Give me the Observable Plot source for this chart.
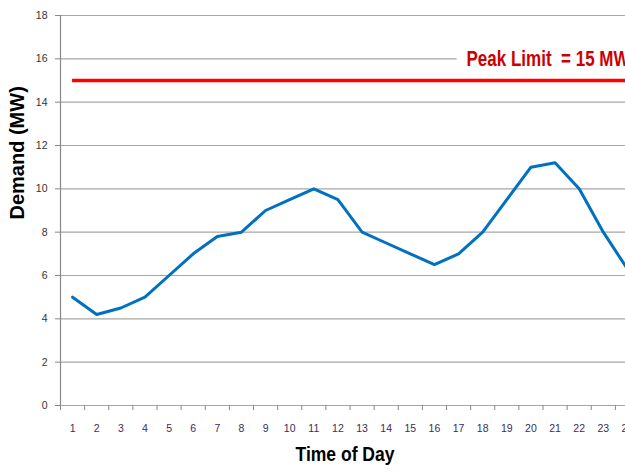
<!DOCTYPE html>
<html>
<head>
<meta charset="utf-8">
<script src="https://cdn.jsdelivr.net/npm/d3@7"></script>
<script src="https://cdn.jsdelivr.net/npm/@observablehq/plot@0.6"></script>
<style>
  html, body { margin: 0; padding: 0; background: #fff; overflow: hidden; }
  #chart { width: 625px; height: 472px; overflow: hidden; }
  #chart svg { max-width: none !important; }
</style>
</head>
<body>
<div id="chart"></div>
<script>
// Hourly electricity demand over one day, in megawatts
const hours = d3.range(1, 25);
const demand = [5, 4.2, 4.5, 5, 6, 7, 7.8, 8, 9, 9.5, 10, 9.5,
                8, 7.5, 7, 6.5, 7, 8, 9.5, 11, 11.2, 10, 8, 6.3];

// Peak limit annotation
const peakLimit = 15;
const peakLabel = "Peak Limit\u00a0\u00a0= 15 MW";
const peakLabelHour = 17.33;
const peakLabelLevel = 16;

// Axis ticks
const yTicks = d3.range(0, 19, 2);
const hourBounds = d3.range(0.5, 25, 1);

const rows = hours.map((h, i) => ({hour: h, mw: demand[i]}));

const sans = "'Liberation Sans', Arial, sans-serif";

const chart = Plot.plot({
  width: 645,
  height: 472,
  marginLeft: 60,
  marginRight: 6,
  marginTop: 15,
  marginBottom: 67,
  style: {fontFamily: sans, fontSize: "10.5px", background: "#fff", overflow: "visible", maxWidth: "none"},
  x: {domain: [0.5, 24.5]},
  y: {domain: [0, 18]},
  marks: [
    // horizontal gridlines
    Plot.ruleY(yTicks, {stroke: "#a6a6a6", strokeWidth: 1.2}),
    // white box behind the peak-limit label
    Plot.rect([0], {x1: 16.94, x2: 26, y1: 15.45, y2: 16.6, fill: "#fff"}),
    // y axis
    Plot.axisY({ticks: yTicks, tickSize: 5, tickPadding: 8, label: null, stroke: "#888", color: "#333"}),
    Plot.ruleX([0.5], {stroke: "#888", strokeWidth: 1.2}),
    // x axis: boundary ticks and centred labels
    Plot.axisX({ticks: hourBounds, tickSize: 5, tickFormat: () => "", label: null, stroke: "#888"}),
    Plot.axisX({ticks: hours, tickSize: 0, tickPadding: 19, label: null, color: "#3b2d5c"}),
    // peak limit line
    Plot.ruleY([peakLimit], {x1: 1, x2: 26, stroke: "#ff0000", strokeWidth: 3.5}),
    // demand curve
    Plot.line(rows, {x: "hour", y: "mw", stroke: "#0070c0", strokeWidth: 3, strokeLinejoin: "round"}),
    // peak label
    Plot.text([peakLabel], {x: peakLabelHour, y: peakLabelLevel, text: d => d, textAnchor: "start",
      fill: "#cc0000", fontWeight: "bold", fontSize: 22, fontFamily: sans, className: "peak-label"}),
    // axis titles
    Plot.text(["Time of Day"], {frameAnchor: "bottom", text: d => d, dx: -5, dy: 55, fontWeight: "bold",
      fontSize: 20, fontFamily: sans, fill: "#000", className: "x-title"}),
    Plot.text(["Demand (MW)"], {frameAnchor: "left", text: d => d, rotate: -90, dx: -43, dy: 9, fontWeight: "bold",
      fontSize: 20, fontFamily: sans, fill: "#000"})
  ]
});

// The condensed bold face is set by squeezing the regular bold glyphs
const squeeze = (cls, len) => d3.select(chart).selectAll(`.${cls} text`)
  .attr("textLength", len).attr("lengthAdjust", "spacingAndGlyphs");
squeeze("peak-label", 163);
squeeze("x-title", 99);

document.getElementById("chart").appendChild(chart);
</script>
</body>
</html>
